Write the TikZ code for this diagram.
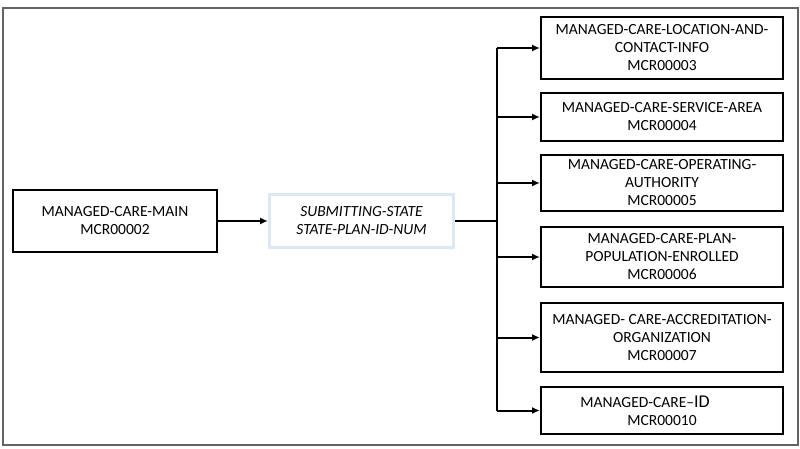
\documentclass[tikz,border=0pt]{standalone}
\usepackage{fontspec}
\setmainfont{Carlito}
\usetikzlibrary{arrows.meta}
\definecolor{keyblue}{RGB}{221,232,245}
\definecolor{framegray}{RGB}{100,100,100}
\begin{document}
\begin{tikzpicture}[x=1pt, y=-1pt,
    tbl/.style={draw=black, line width=2pt, align=center, inner sep=0pt, font=\fontsize{15.5}{18}\selectfont},
    keybox/.style={draw=keyblue, line width=3pt, align=center, inner sep=0pt, font=\fontsize{15.5}{18}\selectfont\itshape},
    arr/.style={line width=2pt, -{Latex[length=8pt,width=7pt]}}]
            \useasboundingbox (0,0) rectangle (800,449);
            \draw [framegray, line width=1.5pt] (3,8) rectangle (798,445);

            \node [tbl, minimum width=204pt, minimum height=61pt] (main) at (115,221) {MANAGED-CARE-MAIN\\MCR00002};
            \node [keybox, minimum width=184pt, minimum height=52pt] (key) at (361.5,221) {SUBMITTING-STATE\\STATE-PLAN-ID-NUM};

            \node [tbl, minimum width=242pt, minimum height=62pt] (loc) at (662,48) {MANAGED-CARE-LOCATION-AND-\\CONTACT-INFO\\MCR00003};
            \node [tbl, minimum width=242pt, minimum height=48pt] (area) at (662,117) {MANAGED-CARE-SERVICE-AREA\\MCR00004};
            \node [tbl, minimum width=242pt, minimum height=56pt] (auth) at (662,183) {MANAGED-CARE-OPERATING-\\AUTHORITY\\MCR00005};
            \node [tbl, minimum width=242pt, minimum height=60pt] (pop) at (662,257) {MANAGED-CARE-PLAN-\\POPULATION-ENROLLED\\MCR00006};
            \node [tbl, minimum width=242pt, minimum height=69pt] (accr) at (662,337.5) {MANAGED- CARE-ACCREDITATION-\\ORGANIZATION\\MCR00007};
            \node [tbl, minimum width=242pt, minimum height=47pt] (mcid) at (662,410.5) {MANAGED-CARE--{\fontsize{18}{18}\selectfont ID}\hspace*{34pt}\\MCR00010};

            \coordinate (bus) at (497,221);

            \draw [arr] (main) -- (key);
            \draw [line width=2pt] (key.east) -- (bus);
            \draw [line width=2pt] (bus|-loc.west) -- (bus|-mcid.west);
            \foreach \t in {loc,area,auth,pop,accr,mcid}
                \draw [arr] (bus|-\t.west) -- (\t.west);
        \end{tikzpicture}
\end{document}
